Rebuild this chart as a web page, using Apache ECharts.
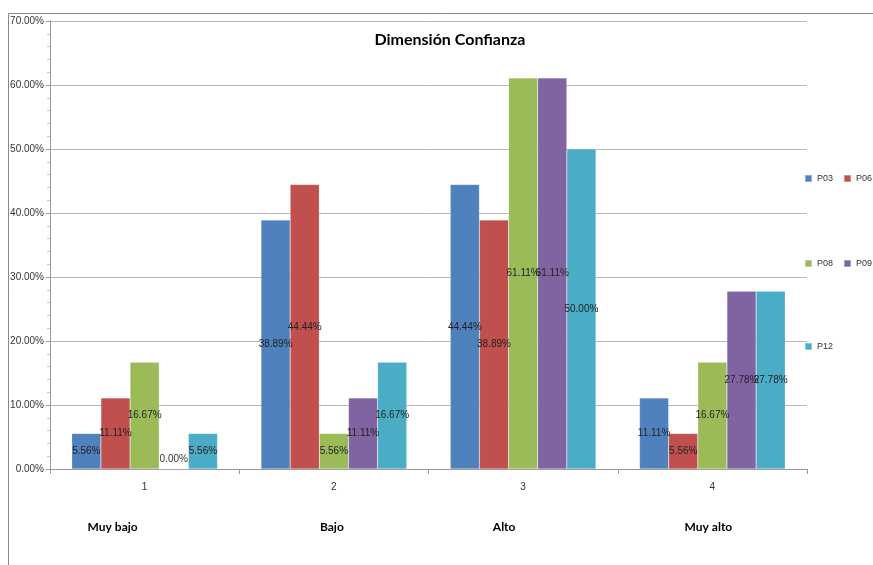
<!DOCTYPE html>
<html>
<head>
<meta charset="utf-8">
<script src="https://cdn.jsdelivr.net/npm/echarts@6/dist/echarts.min.js"></script>
<style>
  html, body { margin: 0; padding: 0; background: #fff; }
  #chart { width: 873px; height: 565px; }
</style>
</head>
<body>
<div id="chart"></div>
<script>
// Category codes on the axis and their level names underneath
const categories = ['1', '2', '3', '4'];
const levelNames = ['Muy bajo', 'Bajo', 'Alto', 'Muy alto'];

// Percent of answers per level for each item
const P03 = [5.56, 38.89, 44.44, 11.11];
const P06 = [11.11, 44.44, 38.89, 5.56];
const P08 = [16.67, 5.56, 61.11, 16.67];
const P09 = [0.00, 11.11, 61.11, 27.78];
const P12 = [5.56, 16.67, 50.00, 27.78];

const seriesNames = ['P03', 'P06', 'P08', 'P09', 'P12'];
const seriesValues = [P03, P06, P08, P09, P12];
const colors = ['#4F81BD', '#C0504D', '#9BBB59', '#8064A2', '#4BACC6'];

// Level-name captions sit a little left of the category centre (right padding per caption)
const captionShift = [64, 4, 38, 8];

const sans = "'Liberation Sans', Arial, sans-serif";
const narrow = "'Liberation Sans Narrow', 'Liberation Sans', sans-serif";
const bold = "Lato, 'Open Sans', sans-serif";

const chart = echarts.init(document.getElementById('chart'), null, { renderer: 'canvas' });

const series = seriesNames.map((name, i) => ({
  name: name,
  type: 'bar',
  barGap: '0%',
  barCategoryGap: '23%',
  itemStyle: { color: colors[i], borderColor: 'rgba(255,255,255,0.35)', borderWidth: 0.5 },
  label: {
    show: true,
    position: 'inside',
    fontFamily: sans,
    fontSize: 10,
    color: '#222',
    formatter: p => p.value.toFixed(2) + '%'
  },
  data: seriesValues[i].map(v => v === 0
    ? { value: v, label: { position: 'top', distance: 5, color: '#333' } }
    : v)
}));

const legendBase = {
  orient: 'horizontal',
  left: 804,
  width: 120,
  padding: 0,
  itemWidth: 7,
  itemHeight: 7,
  itemGap: 10,
  icon: 'rect',
  textStyle: { fontFamily: narrow, fontSize: 9, color: '#333' }
};

chart.setOption({
  animation: false,
  color: colors,
  title: {
    text: 'Dimensión Confianza',
    left: 445,
    textAlign: 'center',
    top: 27,
    textStyle: { fontFamily: bold, fontWeight: 'bold', fontSize: 16, color: '#000' }
  },
  legend: [
    Object.assign({}, legendBase, { top: 174, data: ['P03', 'P06'] }),
    Object.assign({}, legendBase, { top: 259, data: ['P08', 'P09'] }),
    Object.assign({}, legendBase, { top: 342, data: ['P12'] })
  ],
  grid: { left: 50, right: 66, top: 21, bottom: 96 },
  xAxis: [
    {
      type: 'category',
      data: categories,
      axisLine: { lineStyle: { color: '#999', width: 1 } },
      axisTick: { show: true, length: 5, lineStyle: { color: '#999' } },
      axisLabel: { fontFamily: sans, fontSize: 10, color: '#333', margin: 13 }
    },
    {
      type: 'category',
      data: levelNames.map((name, i) => ({
        value: name,
        textStyle: { padding: [0, captionShift[i], 0, 0] }
      })),
      position: 'bottom',
      axisLine: { show: false },
      axisTick: { show: false },
      axisLabel: { fontFamily: bold, fontWeight: 'bold', fontSize: 12, color: '#000', margin: 52 }
    }
  ],
  yAxis: {
    type: 'value',
    min: 0,
    max: 70,
    interval: 10,
    axisLine: { show: true, lineStyle: { color: '#999' } },
    axisTick: { show: true, length: 4, lineStyle: { color: '#999' } },
    minorTick: { show: true, splitNumber: 5, length: 3, lineStyle: { color: '#c4c4c4' } },
    splitLine: { show: true, lineStyle: { color: '#b8b8b8', width: 1 } },
    axisLabel: {
      fontFamily: sans, fontSize: 10, color: '#333', margin: 6,
      formatter: v => v.toFixed(2) + '%'
    }
  },
  graphic: [
    {
      type: 'polyline',
      silent: true,
      shape: { points: [[8.5, 565], [8.5, 13.5], [873, 13.5]] },
      style: { stroke: '#888', lineWidth: 1, fill: null }
    }
  ],
  series: series
});
</script>
</body>
</html>
